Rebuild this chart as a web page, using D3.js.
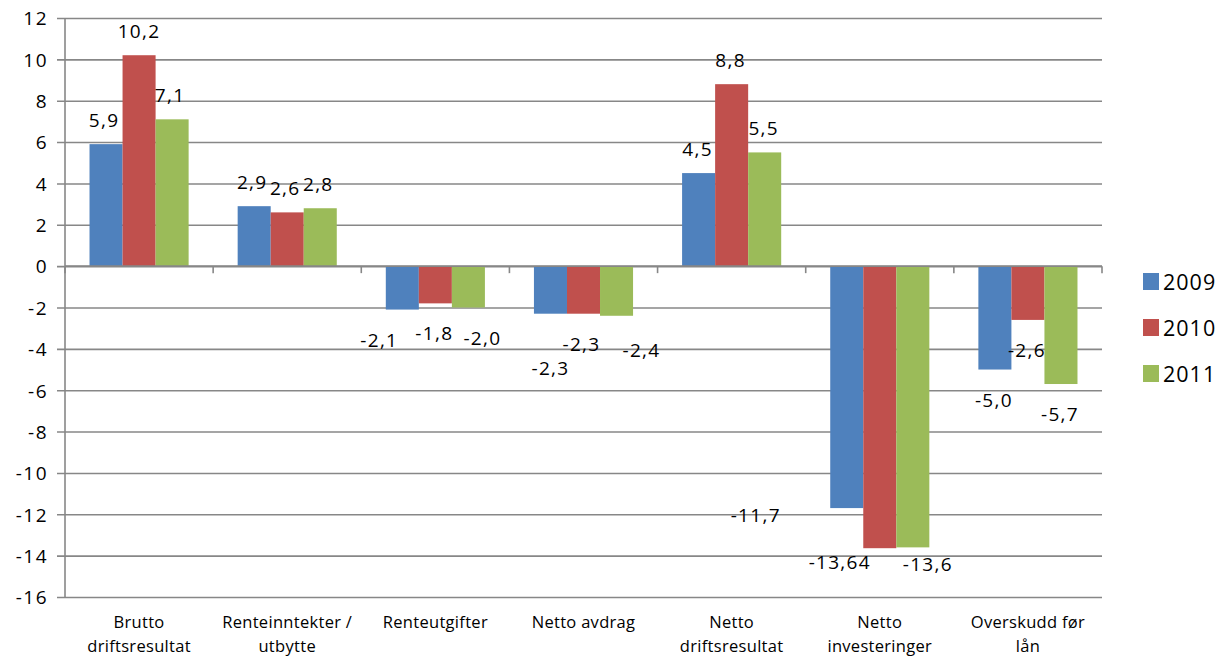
<!DOCTYPE html>
<html>
<head>
<meta charset="utf-8">
<script src="https://cdn.jsdelivr.net/npm/d3@7"></script>
<style>
  html, body { margin: 0; padding: 0; background: #fff; }
  svg { display: block; }
  text { font-family: "Open Sans", sans-serif; fill: #000; }
</style>
</head>
<body>
<svg id="chart" width="1225" height="656"></svg>
<script>
// ---- data ----
const categories = [
  ["Brutto", "driftsresultat"],
  ["Renteinntekter /", "utbytte"],
  ["Renteutgifter"],
  ["Netto avdrag"],
  ["Netto", "driftsresultat"],
  ["Netto", "investeringer"],
  ["Overskudd før", "lån"]
];
const seriesNames = ["2009", "2010", "2011"];
const values2009 = [5.9, 2.9, -2.1, -2.3, 4.5, -11.7, -5.0];
const values2010 = [10.2, 2.6, -1.8, -2.3, 8.8, -13.64, -2.6];
const values2011 = [7.1, 2.8, -2.0, -2.4, 5.5, -13.6, -5.7];
const yTicks = [12, 10, 8, 6, 4, 2, 0, -2, -4, -6, -8, -10, -12, -14, -16];

// ---- layout / style (separate from data) ----
const colors = ["#4F81BD", "#C0504D", "#9BBB59"];
// label nudges [dx, dy] per series per category (mimicking the original's label placement)
const nudge2009 = [[-2,0],[-2,0],[-23,0],[0,24],[-1,0],[-91,-23],[-1,0]];
const nudge2010 = [[0,0],[-2,0],[-1,0],[-2,0],[-1,0],[-40,-16],[-1,0]];
const nudge2011 = [[-2,0],[-2,0],[14,0],[25,4],[-1,0],[15,-13],[-1,0]];

const allValues = [values2009, values2010, values2011];
const allNudges = [nudge2009, nudge2010, nudge2011];

const svg = d3.select("#chart");
const pLeft = 65, pRight = 1102, pTop = 18, pBottom = 597;

const x0 = d3.scaleBand().domain(d3.range(categories.length)).range([pLeft, pRight]).paddingInner(0).paddingOuter(0);
const bw = x0.bandwidth();
const x1 = d3.scaleBand().domain(d3.range(seriesNames.length)).range([bw * 0.1655, bw * 0.8345]).padding(0);
const y = d3.scaleLinear().domain([-16, 12]).range([pBottom, pTop]);

const gridColor = "#878787";

// gridlines + y ticks
const yAxis = d3.axisLeft(y).tickValues(yTicks).tickSize(-(pRight - pLeft)).tickSizeOuter(0)
  .tickFormat(d => d3.format("d")(d).replace("−", "-"));
const gy = svg.append("g").attr("transform", `translate(${pLeft},0)`).call(yAxis);
gy.select(".domain").remove();
gy.selectAll(".tick line").attr("x1", -8).attr("stroke", gridColor).attr("stroke-width", 1.6);
gy.selectAll(".tick text")
  .attr("x", -17)
  .attr("dy", "0.36em")
  .style("font-size", "19px")
  .style("letter-spacing", "1.5px")
  .style("font-family", "'Open Sans', sans-serif")
  .attr("fill", "#000");

// vertical axis line
svg.append("line").attr("x1", pLeft).attr("x2", pLeft).attr("y1", pTop).attr("y2", pBottom)
  .attr("stroke", gridColor).attr("stroke-width", 1.6);

// bars
allValues.forEach((vals, s) => {
  svg.append("g").selectAll("rect").data(vals).join("rect")
    .attr("x", (d, i) => x0(i) + x1(s))
    .attr("width", x1.bandwidth())
    .attr("y", d => y(Math.max(0, d)))
    .attr("height", d => Math.abs(y(d) - y(0)))
    .attr("fill", colors[s]);
});

// x axis (category ticks at zero line)
const xAxisG = svg.append("g");
const boundaries = d3.range(categories.length + 1).map(i => pLeft + i * bw);
xAxisG.append("line").attr("x1", pLeft).attr("x2", pRight).attr("y1", y(0)).attr("y2", y(0))
  .attr("stroke", gridColor).attr("stroke-width", 1.6);
xAxisG.selectAll("line.tk").data(boundaries).join("line").attr("class", "tk")
  .attr("x1", d => d).attr("x2", d => d).attr("y1", y(0)).attr("y2", y(0) + 7)
  .attr("stroke", gridColor).attr("stroke-width", 1.6);

// category labels
const catG = svg.append("g");
categories.forEach((lines, i) => {
  const t = catG.append("text")
    .attr("x", x0(i) + bw / 2)
    .attr("y", 628)
    .attr("text-anchor", "middle")
    .style("font-size", "16.5px")
    .style("letter-spacing", "0.3px");
  lines.forEach((ln, k) => {
    t.append("tspan").attr("x", x0(i) + bw / 2).attr("dy", k === 0 ? 0 : 23.5).text(ln);
  });
});

// data labels
const fmt = v => {
  const two = Math.abs(Math.round(v * 100)) % 10 !== 0;
  return (two ? v.toFixed(2) : v.toFixed(1)).replace(".", ",");
};
allValues.forEach((vals, s) => {
  svg.append("g").selectAll("text").data(vals).join("text")
    .attr("x", (d, i) => x0(i) + x1(s) + x1.bandwidth() / 2 + allNudges[s][i][0])
    .attr("y", (d, i) => (d >= 0 ? y(d) - 17 : y(d) + 37) + allNudges[s][i][1])
    .attr("text-anchor", "middle")
    .style("font-size", "19px")
    .style("letter-spacing", "1.3px")
    .text(d => fmt(d));
});

// legend
const lg = svg.append("g");
seriesNames.forEach((name, s) => {
  const cy = 282 + s * 46;
  lg.append("rect").attr("x", 1143).attr("y", cy - 9).attr("width", 16).attr("height", 17).attr("fill", colors[s]);
  lg.append("text").attr("x", 1163).attr("y", cy + 8)
    .style("font-size", "21.5px").style("letter-spacing", "1px").text(name);
});
</script>
</body>
</html>
